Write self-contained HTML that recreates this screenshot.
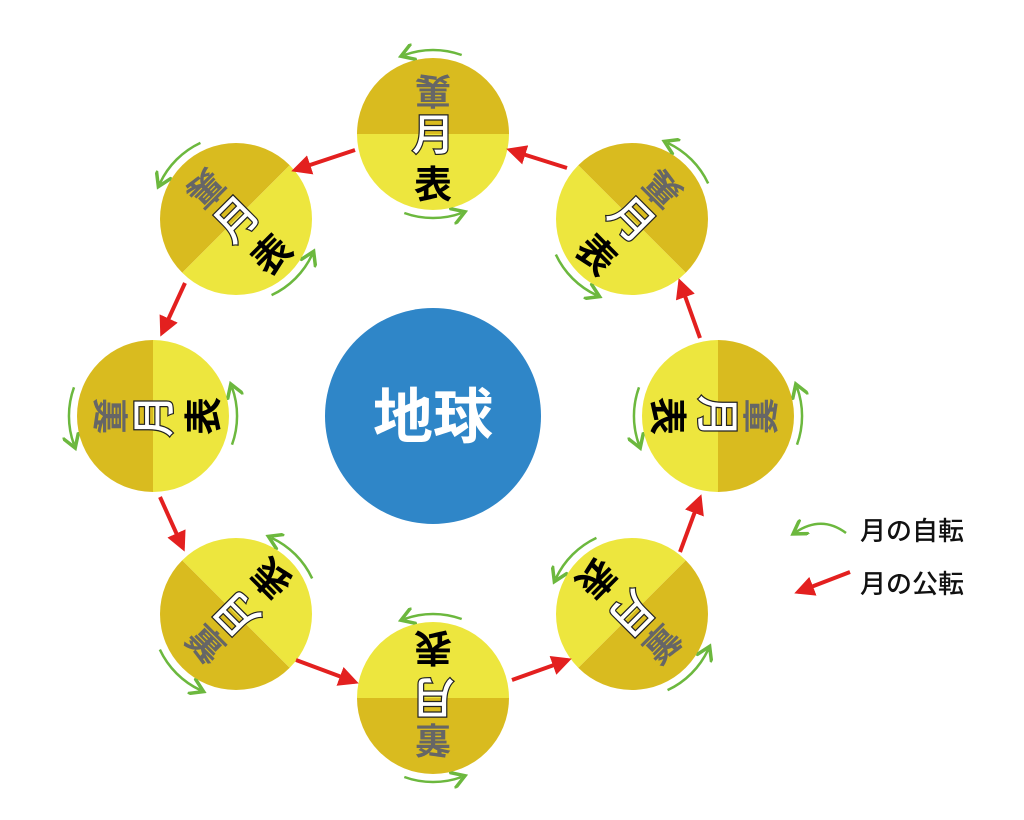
<!DOCTYPE html>
<html><head><meta charset="utf-8"><style>
html,body{margin:0;padding:0;background:#fff;}
svg{display:block;}
text{font-family:"Liberation Sans","Noto Sans CJK JP",sans-serif;font-weight:bold;}
</style></head><body>
<svg width="1024" height="820" viewBox="0 0 1024 820" xmlns="http://www.w3.org/2000/svg">
<defs>
<marker id="rh" viewBox="0 0 10 10" refX="8" refY="5" markerWidth="5" markerHeight="5" orient="auto" markerUnits="strokeWidth"><path d="M0,0 L10,5 L0,10 Z" fill="#e3201f"/></marker>
<marker id="gh" viewBox="0 0 10 10" refX="6" refY="5" markerWidth="7" markerHeight="7" orient="auto" markerUnits="strokeWidth"><path d="M0,0 L8,5 L0,10" fill="none" stroke="#6cb83e" stroke-width="2"/></marker>
<g id="moon">
<path d="M-76,0 A76,76 0 0 1 76,0 Z" fill="#d9bb1f"/>
<path d="M-76,0 A76,76 0 0 0 76,0 Z" fill="#ede63e"/>
<text x="0" y="0" transform="translate(0,-43) scale(1,-1)" dy="13" font-size="36" fill="#666" text-anchor="middle">裏</text>
<text x="0" y="16" font-size="44" fill="#fff" stroke="#222" stroke-width="1.2" text-anchor="middle">月</text>
<text x="0" y="64" font-size="38" fill="#000" text-anchor="middle">表</text>
<path d="M28.7,-79 A84,84 0 0 0 -28.7,-79" fill="none" stroke="#6cb83e" stroke-width="2.5" marker-end="url(#gh)"/>
<path d="M-28.7,79 A84,84 0 0 0 28.7,79" fill="none" stroke="#6cb83e" stroke-width="2.5" marker-end="url(#gh)"/>
</g>
</defs>

<circle cx="433" cy="416" r="108" fill="#2f86c8"/>
<text x="433" y="438" font-size="60" fill="#fff" text-anchor="middle">地球</text>

<use href="#moon" transform="translate(433,134)"/>
<use href="#moon" transform="translate(632,219) rotate(45)"/>
<use href="#moon" transform="translate(718,416) rotate(90)"/>
<use href="#moon" transform="translate(632,614) rotate(135)"/>
<use href="#moon" transform="translate(433,698) rotate(180)"/>
<use href="#moon" transform="translate(236,614) rotate(-135)"/>
<use href="#moon" transform="translate(153,416) rotate(-90)"/>
<use href="#moon" transform="translate(236,219) rotate(-45)"/>

<g stroke="#e3201f" stroke-width="4" marker-end="url(#rh)">
<line x1="567" y1="168" x2="510" y2="150"/>
<line x1="355" y1="150" x2="295" y2="170"/>
<line x1="185" y1="283" x2="162" y2="333"/>
<line x1="160" y1="497" x2="183" y2="548"/>
<line x1="296" y1="660" x2="355" y2="682"/>
<line x1="512" y1="680" x2="568" y2="660"/>
<line x1="680" y1="552" x2="700" y2="498"/>
<line x1="700" y1="338" x2="680" y2="282"/>
</g>

<path d="M846,533 Q822,515 796,532" fill="none" stroke="#6cb83e" stroke-width="2.5" marker-end="url(#gh)"/>
<text x="860" y="540" font-size="26" fill="#111" font-weight="normal" style="font-weight:500">月の自転</text>
<line x1="850" y1="572" x2="798" y2="592" stroke="#e3201f" stroke-width="4" marker-end="url(#rh)"/>
<text x="860" y="593" font-size="26" fill="#111" style="font-weight:500">月の公転</text>
</svg>
</body></html>
